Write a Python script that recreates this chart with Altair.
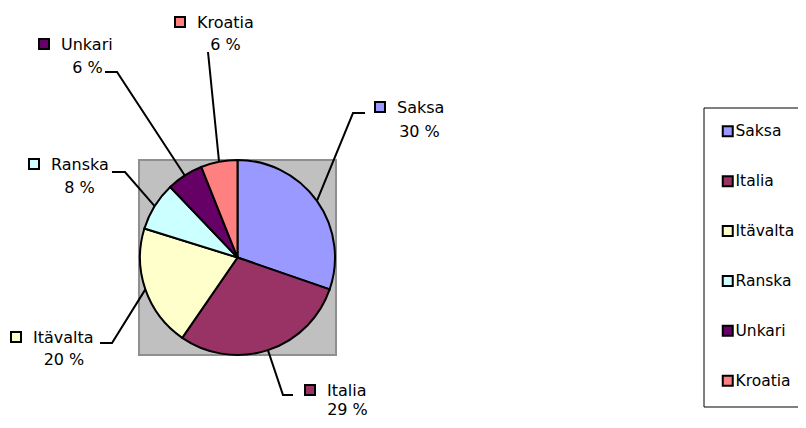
import altair as alt
import pandas as pd
import numpy as np

# ---- data ----
names = ["Saksa", "Italia", "Itävalta", "Ranska", "Unkari", "Kroatia"]
values = [30, 29, 20, 8, 6, 6]
pct_labels = ["30 %", "29 %", "20 %", "8 %", "6 %", "6 %"]
colors = ["#9999FF", "#993366", "#FFFFCC", "#CCFFFF", "#660066", "#FF8080"]

# ---- layout (page pixels; the page margin is subtracted below) ----
M = 8
CX, CY, R = 237.5 - M, 257.5 - M, 97.5
name_x = [397, 327, 33, 51, 61, 197]
name_y = [108, 391, 338, 165, 45, 23]
pct_x = [419.5, 347.5, 64, 79.5, 87.5, 225.5]
pct_y = [132, 410, 360, 188, 68, 45]
elbow_x = [353, 283, 112, 125, 117, 208]
elbow_y = [113, 395, 343, 172, 72, 52]
end_x = [365, 293, 100, 112, 105, 208]
end_y = [113, 395, 343, 172, 72, 52]
FONT = "DejaVu Sans"

df = pd.DataFrame({
    "name": names,
    "value": values,
    "idx": list(range(len(names))),
    "pct": pct_labels,
    "nx": [v - M for v in name_x],
    "ny": [v - M for v in name_y],
    "px": [v - M for v in pct_x],
    "py": [v - M for v in pct_y],
    "sx": [v - 17 - M for v in name_x],
    "sy": [v - 1 - M for v in name_y],
})

vals = np.array(values, dtype=float)
cum = np.cumsum(vals)
mid = (cum - vals / 2) / vals.sum() * 2 * np.pi
edge_x = CX + R * np.sin(mid)
edge_y = CY - R * np.cos(mid)

rows = []
for i, n in enumerate(names):
    rows.append({"name": n, "step": 0, "lx": edge_x[i], "ly": edge_y[i]})
    rows.append({"name": n, "step": 1, "lx": elbow_x[i] - M, "ly": elbow_y[i] - M})
    rows.append({"name": n, "step": 2, "lx": end_x[i] - M, "ly": end_y[i] - M})
lines = pd.DataFrame(rows)

color_scale = alt.Scale(domain=names, range=colors)

bg = alt.Chart(pd.DataFrame({"a": [0]})).mark_rect(
    fill="#C0C0C0", stroke="#8f8f8f", strokeWidth=2
).encode(
    x=alt.value(139 - M), x2=alt.value(336 - M),
    y=alt.value(160 - M), y2=alt.value(355 - M),
)

pie = alt.Chart(df).mark_arc(radius=R, stroke="black", strokeWidth=2).encode(
    theta=alt.Theta("value:Q", stack=True),
    color=alt.Color(
        "name:N", scale=color_scale, title=None,
        legend=alt.Legend(
            orient="none", legendX=695.5, legendY=99.5,
            symbolType="square", symbolSize=100,
            symbolStrokeColor="black", symbolStrokeWidth=2,
            labelFont=FONT, labelFontSize=15.5, labelColor="black",
            strokeColor="black", fillColor="white",
            padding=16, rowPadding=30.9, symbolOffset=0.5, labelOffset=0,
        ),
    ),
    order=alt.Order("idx:Q"),
    x=alt.value(CX), y=alt.value(CY),
)

leaders = alt.Chart(lines).mark_line(color="black", strokeWidth=2).encode(
    x=alt.X("lx:Q", scale=None),
    y=alt.Y("ly:Q", scale=None),
    detail="name:N",
    order="step:Q",
)

squares = alt.Chart(df).mark_square(
    size=100, stroke="black", strokeWidth=2, opacity=1
).encode(
    x=alt.X("sx:Q", scale=None),
    y=alt.Y("sy:Q", scale=None),
    color=alt.Color("name:N", scale=color_scale, legend=None),
)

name_txt = alt.Chart(df).mark_text(
    align="left", baseline="middle", font=FONT, fontSize=16, color="black"
).encode(
    x=alt.X("nx:Q", scale=None), y=alt.Y("ny:Q", scale=None), text="name:N"
)

pct_txt = alt.Chart(df).mark_text(
    align="center", baseline="middle", font=FONT, fontSize=16, color="black"
).encode(
    x=alt.X("px:Q", scale=None), y=alt.Y("py:Q", scale=None), text="pct:N"
)

chart = alt.layer(bg, pie, leaders, squares, name_txt, pct_txt).properties(
    width=790, height=412, padding=0,
    autosize=alt.AutoSizeParams(type="none"),
).configure_view(strokeWidth=0)

chart.save("out.html", embed_options={"renderer": "svg", "actions": False})
